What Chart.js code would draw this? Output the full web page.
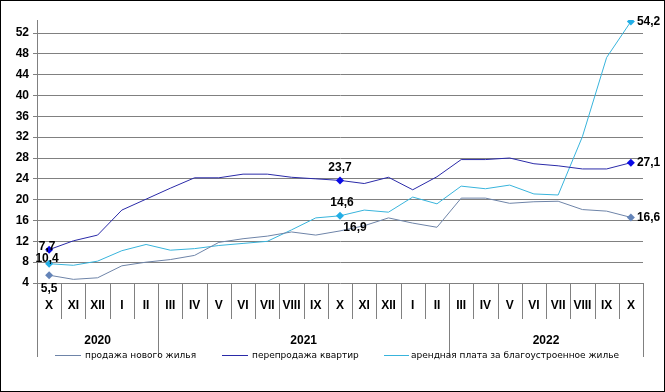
<!DOCTYPE html>
<html>
<head>
<meta charset="utf-8">
<script src="https://cdn.jsdelivr.net/npm/chart.js@4/dist/chart.umd.min.js"></script>
<style>
  body { margin: 0; background: #fff; }
  #wrap { width: 663px; height: 390px; border: 1px solid #000; }
</style>
</head>
<body>
<div id="wrap"><canvas id="chart" width="663" height="390"></canvas></div>
<script>
const months = ['X', 'XI', 'XII', 'I', 'II', 'III', 'IV', 'V', 'VI', 'VII', 'VIII', 'IX',
  'X', 'XI', 'XII', 'I', 'II', 'III', 'IV', 'V', 'VI', 'VII', 'VIII', 'IX', 'X'];
const years = ['2020', '2021', '2022'];
const yearSpans = [5, 12, 8];

const seriesNames = [
  'продажа нового жилья',
  'перепродажа квартир',
  'арендная плата за благоустроенное жилье'
];
const newHousing = [5.5, 4.7, 5.0, 7.3, 8.0, 8.5, 9.3, 11.8, 12.5, 13.0, 13.8, 13.2,
  14.0, 15.0, 16.5, 15.5, 14.7, 20.3, 20.3, 19.3, 19.6, 19.7, 18.1, 17.8, 16.6];
const resale = [10.4, 12.1, 13.2, 18.0, 20.1, 22.2, 24.2, 24.2, 24.9, 24.9, 24.3, 24.0,
  23.7, 23.1, 24.3, 21.9, 24.4, 27.7, 27.7, 28.0, 26.9, 26.5, 25.9, 25.9, 27.1];
const rent = [7.7, 7.4, 8.2, 10.2, 11.4, 10.3, 10.6, 11.2, 11.6, 12.0, 14.2, 16.5,
  16.9, 18.0, 17.6, 20.5, 19.2, 22.6, 22.1, 22.8, 21.1, 20.9, 32.1, 47.3, 54.2];

// label texts as printed on the picture, by point index
const newHousingLabels = { 0: '5,5', 12: '16,9', 24: '16,6' };
const resaleLabels = { 0: '7,7', 12: '23,7', 24: '27,1' };
const rentLabels = { 0: '10,4', 12: '14,6', 24: '54,2' };

const yTicks = [4, 8, 12, 16, 20, 24, 28, 32, 36, 40, 44, 48, 52];

const FONT = 'Liberation Sans';
const colors = ['#6e84a8', '#2a2aa8', '#38b4dc'];
const markerColors = ['#6484b8', '#0a0ae6', '#22aee6'];

const markedPoints = [[0, 24], [0, 12, 24], [0, 12, 24]];
const pointLabels = [newHousingLabels, resaleLabels, rentLabels];
// where each label sits relative to its point
const labelOffsets = [
  { 0: [0, 13, 'center'], 12: [15, -3, 'center'], 24: [6, 0, 'left'] },
  { 0: [-2, -3, 'center'], 12: [0, -13, 'center'], 24: [6, 0, 'left'] },
  { 0: [-2, -5, 'center'], 12: [2, -13, 'center'], 24: [6, 0, 'left'] }
];

const extras = {
  id: 'extras',
  afterDraw(chart) {
    const { ctx, chartArea } = chart;
    const x = chart.scales.x;
    const bottom = chartArea.bottom;
    const edge = i => {
      if (i <= 0) return chartArea.left;
      if (i >= months.length) return chartArea.right;
      return (x.getPixelForValue(i - 1) + x.getPixelForValue(i)) / 2;
    };
    ctx.save();
    ctx.strokeStyle = '#808080';
    ctx.lineWidth = 1;
    // category separators
    for (let i = 0; i <= months.length; i++) {
      const px = Math.round(edge(i)) + 0.5;
      ctx.beginPath();
      ctx.moveTo(px, bottom);
      ctx.lineTo(px, bottom + 36);
      ctx.stroke();
    }
    // year dividers and year labels
    let start = 0;
    ctx.fillStyle = '#000';
    ctx.font = 'bold 12px ' + FONT;
    ctx.textAlign = 'center';
    ctx.textBaseline = 'middle';
    yearSpans.forEach((span, k) => {
      const a = edge(start), b = edge(start + span);
      [a, b].forEach(px => {
        px = Math.round(px) + 0.5;
        ctx.beginPath();
        ctx.moveTo(px, bottom);
        ctx.lineTo(px, bottom + 74);
        ctx.stroke();
      });
      ctx.fillText(years[k], (a + b) / 2, bottom + 58);
      start += span;
    });
    // legend
    const legendY = 354.5;
    const legendPos = [[54, 80, 84], [221, 247, 251], [383, 408, 410]];
    ctx.font = '9px DejaVu Sans';
    ctx.textAlign = 'left';
    legendPos.forEach((p, k) => {
      ctx.strokeStyle = colors[k];
      ctx.beginPath();
      ctx.moveTo(p[0], legendY);
      ctx.lineTo(p[1], legendY);
      ctx.stroke();
      ctx.fillText(seriesNames[k], p[2], legendY);
    });
    // data labels
    ctx.font = 'bold 12px ' + FONT;
    chart.data.datasets.forEach((ds, k) => {
      const meta = chart.getDatasetMeta(k);
      Object.keys(pointLabels[k]).forEach(idx => {
        const pt = meta.data[idx];
        const off = labelOffsets[k][idx];
        ctx.textAlign = off[2];
        ctx.fillText(pointLabels[k][idx], pt.x + off[0], pt.y + off[1]);
      });
    });
    ctx.restore();
  }
};

const makeSet = (k, data) => ({
  label: seriesNames[k],
  data,
  borderColor: colors[k],
  backgroundColor: markerColors[k],
  borderWidth: 1,
  tension: 0,
  pointStyle: 'rectRot',
  pointRadius: c => (markedPoints[k].includes(c.dataIndex) ? 4 : 0),
  pointBorderWidth: 0,
  pointHoverRadius: 0
});

new Chart(document.getElementById('chart'), {
  type: 'line',
  data: {
    labels: months,
    datasets: [makeSet(0, newHousing), makeSet(1, resale), makeSet(2, rent)]
  },
  options: {
    responsive: false,
    animation: false,
    events: [],
    layout: { padding: { top: 19, right: 21, left: 0, bottom: 0 } },
    plugins: { legend: { display: false }, tooltip: { enabled: false } },
    scales: {
      x: {
        type: 'category',
        offset: true,
        grid: { display: false, drawTicks: false },
        border: { display: false },
        ticks: {
          autoSkip: false,
          maxRotation: 0,
          padding: 15,
          color: '#000',
          font: { family: FONT, size: 12, weight: 'bold' }
        },
        afterFit: s => { s.height = 108; }
      },
      y: {
        min: 4,
        max: 54.5,
        afterBuildTicks: s => { s.ticks = yTicks.map(v => ({ value: v })); },
        grid: { color: '#808080', tickLength: 4 },
        border: { color: '#808080' },
        ticks: {
          padding: 4,
          color: '#000',
          font: { family: FONT, size: 12, weight: 'bold' }
        },
        afterFit: s => { s.width = 36; }
      }
    }
  },
  plugins: [extras]
});
</script>
</body>
</html>
